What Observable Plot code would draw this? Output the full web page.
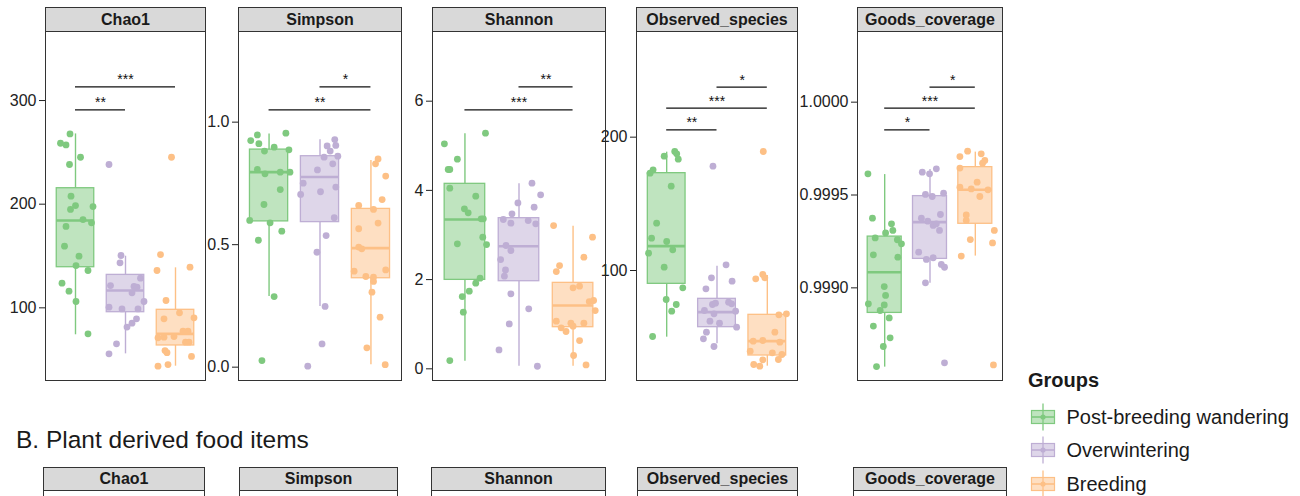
<!DOCTYPE html>
<html>
<head>
<meta charset="utf-8">
<script src="https://cdn.jsdelivr.net/npm/d3@7"></script>
<script src="https://cdn.jsdelivr.net/npm/@observablehq/plot@0.6"></script>
<style>
  html, body { margin: 0; padding: 0; background: #fff; overflow: hidden; }
  #root { position: relative; width: 1300px; height: 496px; overflow: hidden;
          font-family: "Liberation Sans", Arial, Helvetica, sans-serif; color: #1a1a1a; }
  .strip { position: absolute; box-sizing: border-box; border: 1px solid #333; background: #d9d9d9;
           font-weight: bold; font-size: 16px; text-align: center; color: #1a1a1a; }
  .abs { position: absolute; white-space: nowrap; line-height: 1; }
  #root svg { position: absolute; }
</style>
</head>
<body>
<div id="root"></div>
<script>
// ---- groups ----
const groups = ["Post-breeding wandering", "Overwintering", "Breeding"];
const groupColors = ["#7fc97f", "#beaed4", "#fdc086"];
const metrics = ["Chao1", "Simpson", "Shannon", "Observed_species", "Goods_coverage"];

// ---- box statistics per group: [lower whisker, Q1, median, Q3, upper whisker] ----
const chao1Box = [[74, 139.2, 184.2, 215.4, 267.8], [55.6, 95.8, 116.7, 131.8, 149.8], [43.7, 63.7, 74.9, 98.1, 138.6]];
const simpsonBox = [[0.288, 0.595, 0.796, 0.888, 0.952], [0.248, 0.592, 0.776, 0.861, 0.928], [0.010, 0.363, 0.486, 0.646, 0.844]];
const shannonBox = [[0.171, 1.994, 3.347, 4.147, 5.268], [0.058, 1.964, 2.749, 3.377, 4.147], [0.058, 0.933, 1.419, 1.927, 3.197]];
const observedBox = [[50, 90, 118.25, 173, 188.75], [45, 57.5, 68.75, 78.75, 103.25], [28.25, 36.25, 47, 66.75, 96.25]];
const goodsBox = [[0.998573, 0.998865, 0.999084, 0.999276, 0.999610], [0.999025, 0.999156, 0.999354, 0.999494, 0.999637], [0.999171, 0.999345, 0.999528, 0.999650, 0.999731]];

// ---- samples per group: [jitter offset from group centre, value] ----
const chao1Points = [
  [[-0.30,258.8],[-0.19,257.2],[-0.11,267.8],[0.10,245.3],[-0.12,238.3],[-0.09,207.7],[0,198.7],[-0.10,194.9],[0.35,197.7],[0.15,185.2],
   [0.32,182.0],[-0.19,178.5],[-0.22,159.5],[0.07,149.8],[0.01,140.8],[0.25,136.0],[-0.27,123.8],[-0.13,116.1],[0.01,106.1],[0.25,74.9]],
  [[-0.33,238.3],[-0.09,150.5],[-0.11,143.4],[-0.30,121.5],[0.17,120.6],[0.23,119.9],[0.30,128.6],[0.13,114.5],[-0.33,100.6],[-0.07,99.0],
   [0.25,99.0],[0.37,106.1],[0.22,89.4],[0.13,85.2],[0.03,81.4],[-0.18,65.3],[-0.33,55.6]],
  [[-0.08,245.3],[-0.30,151.4],[-0.37,136.0],[0.29,139.2],[-0.19,107.1],[0.08,95.2],[-0.23,89.4],[0.37,90.4],[-0.35,71.1],[-0.23,71.7],
   [-0.03,72.3],[0.15,77.5],[0.25,77.5],[0.20,66.9],[0.27,66.9],[-0.21,58.8],[-0.17,56.7],[0.32,53.1],[-0.35,43.7],[-0.15,45.3]]
];
const simpsonPoints = [
  [[-0.23,0.948],[-0.36,0.925],[-0.20,0.912],[0.33,0.955],[0.10,0.898],[-0.09,0.882],[0.39,0.887],[-0.23,0.807],[-0.08,0.789],[0.22,0.796],
   [0.41,0.796],[0.22,0.725],[-0.10,0.664],[-0.38,0.599],[0.02,0.589],[0.25,0.555],[-0.21,0.518],[0.10,0.288],[-0.14,0.027]],
  [[0.29,0.929],[0.14,0.903],[0.31,0.905],[0.20,0.882],[0.08,0.857],[0.35,0.861],[0.25,0.830],[-0.05,0.805],[-0.33,0.751],[-0.38,0.705],
   [0.01,0.716],[0.31,0.735],[0.28,0.610],[0.12,0.537],[-0.06,0.469],[0.10,0.248],[0.04,0.095],[-0.24,0.004]],
  [[0.14,0.850],[0.09,0.830],[0.29,0.780],[0.22,0.684],[-0.24,0.660],[0.05,0.644],[0.14,0.588],[-0.24,0.565],[-0.24,0.490],[-0.18,0.483],
   [-0.33,0.392],[0.29,0.397],[-0.10,0.370],[0.05,0.367],[0.05,0.350],[0.02,0.306],[0.18,0.204],[-0.08,0.079],[0.28,0.010]]
];
const shannonPoints = [
  [[0.38,5.283],[-0.38,5.043],[-0.14,4.700],[-0.31,4.468],[-0.28,4.468],[-0.28,4.049],[0.20,3.870],[-0.01,3.586],[0.06,3.496],[0.30,3.362],
   [0.34,3.362],[-0.14,2.801],[0.33,2.951],[0.40,2.786],[0.28,2.031],[0.20,1.919],[0.08,1.740],[-0.05,1.620],[-0.03,1.269],[-0.28,0.185]],
  [[0.24,4.161],[0.40,3.900],[-0.02,3.720],[0.28,3.623],[-0.13,3.474],[-0.29,3.347],[-0.15,3.265],[0.17,3.324],[0.31,3.250],[-0.24,2.764],
   [-0.15,2.652],[-0.34,2.450],[-0.25,2.218],[-0.27,2.076],[-0.15,1.680],[0.18,1.344],[-0.18,1.007],[-0.37,0.424],[0.34,0.058]],
  [[-0.36,3.212],[0.36,2.951],[0.20,2.502],[-0.25,2.315],[-0.31,2.181],[0.12,1.852],[0,1.815],[0.30,1.508],[0.38,1.531],[0.41,1.306],
   [-0.31,1.067],[-0.04,1.022],[0.20,1.022],[-0.22,0.918],[-0.13,0.836],[0,0.955],[0.12,0.634],[0.01,0.298],[0.24,0.088]]
];
const observedPoints = [
  [[0.16,189.25],[-0.05,185.75],[0.20,187.5],[0.23,183.5],[-0.27,175.5],[-0.33,173],[0.09,163.25],[-0.20,135.5],[-0.30,124.25],[0,121.75],
   [0.12,115.5],[-0.36,113],[-0.05,102.5],[0.32,87],[-0.01,78.25],[0.19,74.5],[0.10,69.5],[-0.28,50.5]],
  [[-0.08,178.25],[0.18,104.25],[-0.11,94.5],[-0.22,86.25],[0.30,92],[-0.09,74.5],[-0.03,75.5],[0.23,76.25],[0.29,75],[0.37,69.5],
   [-0.25,70],[-0.06,67.5],[-0.14,62],[0.05,60.5],[0.39,57.5],[-0.21,53.75],[-0.27,48.75],[-0.06,43]],
  [[-0.08,189.25],[-0.09,97],[-0.23,93.75],[-0.05,94.5],[0.23,66.75],[0.38,67.5],[0.15,53.75],[-0.28,47],[-0.09,47.5],[0.25,46.25],
   [-0.34,39.5],[0.10,38.25],[0.29,37],[0.22,33.25],[-0.09,33],[-0.27,29.5],[-0.15,28.25]]
];
const goodsPoints = [
  [[-0.37,0.999614],[-0.27,0.999375],[0.15,0.999345],[0.02,0.999296],[0.18,0.999309],[-0.21,0.999269],[0.28,0.999259],[0.37,0.999237],
   [-0.25,0.999178],[0.29,0.999165],[-0.01,0.999007],[0.02,0.998959],[-0.36,0.998914],[-0.01,0.998908],[-0.10,0.998878],[0.10,0.998838],
   [-0.25,0.998794],[0.12,0.998731],[-0.03,0.998684],[-0.18,0.998576]],
  [[0.14,0.999641],[-0.17,0.999623],[-0.01,0.999614],[-0.10,0.999503],[0.05,0.999492],[0.30,0.999510],[-0.19,0.999375],[0.23,0.999395],
   [-0.05,0.999359],[0.07,0.999336],[0.14,0.999345],[0.21,0.999309],[-0.25,0.999192],[-0.08,0.999153],[0.07,0.999162],[0.25,0.999126],
   [0.32,0.999111],[-0.10,0.999027],[0.32,0.998596]],
  [[-0.17,0.999736],[-0.34,0.999707],[0.13,0.999722],[0.21,0.999686],[0.16,0.999671],[-0.34,0.999645],[0.04,0.999569],[-0.34,0.999542],
   [-0.09,0.999533],[0.28,0.999528],[0.10,0.999492],[-0.20,0.999393],[-0.20,0.999363],[-0.11,0.999260],[0.42,0.999309],[0.38,0.999242],
   [-0.31,0.999171],[0.40,0.998585]]
];

// ---- pairwise significance: [group a, group b, bracket height, stars] ----
const chao1Sig = [[1, 2, 291, "**"], [1, 3, 313.2, "***"]];
const simpsonSig = [[1, 3, 1.050, "**"], [2, 3, 1.144, "*"]];
const shannonSig = [[1, 3, 5.806, "***"], [2, 3, 6.321, "**"]];
const observedSig = [[1, 2, 205.5, "**"], [1, 3, 221.75, "***"], [2, 3, 237.5, "*"]];
const goodsSig = [[1, 2, 0.999851, "*"], [1, 3, 0.999968, "***"], [2, 3, 1.000081, "*"]];

// ---- axis ticks ----
const chao1Ticks = [100, 200, 300];
const simpsonTicks = [0, 0.5, 1.0];
const shannonTicks = [0, 2, 4, 6];
const observedTicks = [100, 200];
const goodsTicks = [0.9990, 0.9995, 1.0000];

const sectionTitle = "B. Plant derived food items";
const legendTitle = "Groups";

// ---- layout ----
const root = document.getElementById("root");
const FONT = '"Liberation Sans", Arial, Helvetica, sans-serif';

const panelsA = [
  {metric: metrics[0], box: chao1Box, pts: chao1Points, sig: chao1Sig, ticks: chao1Ticks, fmt: d3.format("d"), domain: [29.9, 366.6], left: 45, right: 205},
  {metric: metrics[1], box: simpsonBox, pts: simpsonPoints, sig: simpsonSig, ticks: simpsonTicks, fmt: d3.format(".1f"), domain: [-0.0544, 1.370], left: 238, right: 401},
  {metric: metrics[2], box: shannonBox, pts: shannonPoints, sig: shannonSig, ticks: shannonTicks, fmt: d3.format("d"), domain: [-0.262, 7.562], left: 432, right: 605},
  {metric: metrics[3], box: observedBox, pts: observedPoints, sig: observedSig, ticks: observedTicks, fmt: d3.format("d"), domain: [17.5, 279.25], left: 636, right: 797},
  {metric: metrics[4], box: goodsBox, pts: goodsPoints, sig: goodsSig, ticks: goodsTicks, fmt: d3.format(".4f"), domain: [0.998501, 1.0003806], left: 857, right: 1002}
];
const panelsB = [
  {metric: metrics[0], left: 43, right: 204},
  {metric: metrics[1], left: 239, right: 397},
  {metric: metrics[2], left: 431, right: 605},
  {metric: metrics[3], left: 637, right: 797},
  {metric: metrics[4], left: 853, right: 1006}
];

function addStrip(label, left, right, top, height) {
  const s = document.createElement("div");
  s.className = "strip";
  s.style.left = left + "px";
  s.style.top = top + "px";
  s.style.width = (right - left + 1) + "px";
  s.style.height = height + "px";
  s.style.lineHeight = (height - 2) + "px";
  s.textContent = label;
  root.appendChild(s);
}

function addText(str, left, baseline, size, weight) {
  const t = document.createElement("div");
  t.className = "abs";
  t.style.left = left + "px";
  t.style.top = (baseline - 0.8465 * size) + "px";
  t.style.fontSize = size + "px";
  t.style.fontWeight = weight || "normal";
  t.textContent = str;
  root.appendChild(t);
}

const HALF = 0.375; // half box width in group units

function drawPanel(p, top, bottom) {
  const ml = 60, mr = 1, mt = 1, mb = 1;
  const boxes = p.box.map((b, i) => ({group: groups[i], i: i + 1, lo: b[0], q1: b[1], med: b[2], q3: b[3], hi: b[4]}));
  const dots = p.pts.flatMap((arr, i) => arr.map(([j, v]) => ({group: groups[i], x: i + 1 + j, v})));
  const sig = p.sig.map(([a, b, y, label]) => ({a, b, y, label}));
  const svg = Plot.plot({
    width: p.right - p.left + ml + mr,
    height: bottom - top + mt + mb,
    marginLeft: ml, marginRight: mr, marginTop: mt, marginBottom: mb,
    style: {background: "transparent", fontFamily: FONT, fontSize: "16px", color: "#222", overflow: "visible"},
    x: {domain: [0.4, 3.6], axis: null},
    y: {domain: p.domain, ticks: p.ticks, tickFormat: p.fmt, tickSize: 6, tickPadding: 3, label: null},
    color: {domain: groups, range: groupColors},
    marks: [
      Plot.ruleX(boxes, {x: "i", y1: "lo", y2: "q1", stroke: "group", strokeWidth: 1.4}),
      Plot.ruleX(boxes, {x: "i", y1: "q3", y2: "hi", stroke: "group", strokeWidth: 1.4}),
      Plot.rect(boxes, {x1: d => d.i - HALF, x2: d => d.i + HALF, y1: "q1", y2: "q3",
                        fill: "group", fillOpacity: 0.5, stroke: "group", strokeWidth: 1.3}),
      Plot.ruleY(boxes, {y: "med", x1: d => d.i - HALF, x2: d => d.i + HALF, stroke: "group", strokeWidth: 2.6}),
      Plot.dot(dots, {x: "x", y: "v", fill: "group", r: 3.4}),
      Plot.ruleY(sig, {y: "y", x1: "a", x2: "b", stroke: "#111", strokeWidth: 1.2}),
      Plot.text(sig, {x: d => (d.a + d.b) / 2, y: "y", text: "label", dy: -7, fontSize: 14, fill: "#111"}),
      Plot.frame({stroke: "#333", strokeWidth: 1})
    ]
  });
  svg.style.left = (p.left - ml) + "px";
  svg.style.top = (top - mt) + "px";
  root.appendChild(svg);
  addStrip(p.metric, p.left, p.right, 7, 25);
}

function drawEmptyPanel(p, top, bottom) {
  const svg = Plot.plot({
    width: p.right - p.left + 2, height: bottom - top + 2,
    marginLeft: 1, marginRight: 1, marginTop: 1, marginBottom: 1,
    style: {background: "transparent", overflow: "visible"},
    marks: [Plot.frame({stroke: "#333", strokeWidth: 1})]
  });
  svg.style.left = (p.left - 1) + "px";
  svg.style.top = (top - 1) + "px";
  root.appendChild(svg);
  addStrip(p.metric, p.left, p.right, 467, 24);
}

panelsA.forEach(p => drawPanel(p, 31, 380));
panelsB.forEach(p => drawEmptyPanel(p, 490, 560));

addText(sectionTitle, 16, 449, 24.5);

// ---- legend ----
addText(legendTitle, 1028, 386.7, 20, "bold");
const keyCentres = [416.5, 450, 483.5];
groups.forEach((g, i) => {
  const cy = keyCentres[i];
  const key = d3.create("svg").attr("width", 28).attr("height", 30)
    .style("left", "1029px").style("top", (cy - 15) + "px");
  const c = groupColors[i];
  key.append("line").attr("x1", 14).attr("x2", 14).attr("y1", 1.5).attr("y2", 28.5).attr("stroke", c).attr("stroke-width", 1.3);
  key.append("rect").attr("x", 2.5).attr("y", 8.5).attr("width", 23).attr("height", 13)
    .attr("fill", c).attr("fill-opacity", 0.5).attr("stroke", c).attr("stroke-width", 1.2);
  key.append("line").attr("x1", 2.5).attr("x2", 25.5).attr("y1", 15).attr("y2", 15).attr("stroke", c).attr("stroke-width", 1.6);
  key.append("circle").attr("cx", 14).attr("cy", 15).attr("r", 2.6).attr("fill", c);
  root.appendChild(key.node());
  addText(g, 1066.5, cy + 7, 20);
});
</script>
</body>
</html>
